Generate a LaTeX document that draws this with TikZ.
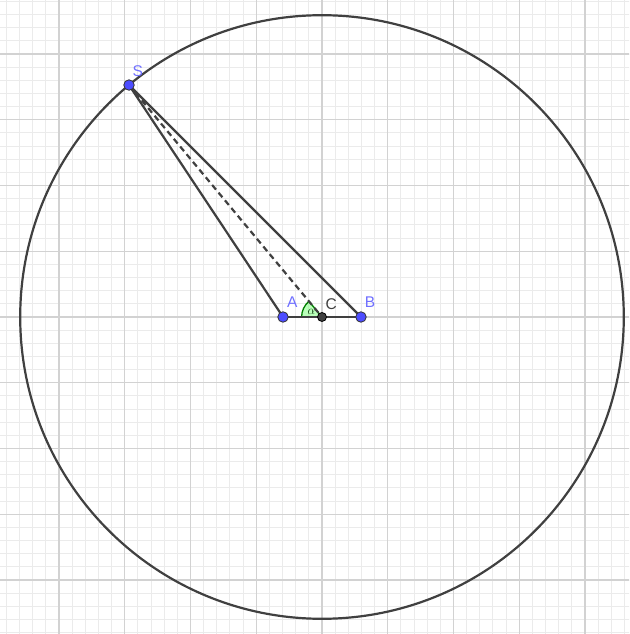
\documentclass[tikz,border=0pt]{standalone}
\usepackage{fontspec}
\setmainfont{Liberation Sans}
\definecolor{minorgrid}{HTML}{EBEBEB}
\definecolor{majorgrid}{HTML}{D2D2D2}
\definecolor{segcol}{HTML}{404040}
\definecolor{ptblue}{HTML}{4D4DFF}
\definecolor{lblblue}{HTML}{7070FF}
\definecolor{anggreen}{HTML}{007F00}
\tikzset{
  seg/.style={draw=segcol, line width=2.2pt},
  ptA/.style={circle, fill=ptblue, draw=black!80, line width=0.8pt, inner sep=0pt, minimum size=10.5pt},
  ptC/.style={circle, fill=segcol, draw=black, line width=0.8pt, inner sep=0pt, minimum size=9pt},
  lbl/.style={text=lblblue, font=\fontsize{15.5}{17}\selectfont, inner sep=0pt},
  lblk/.style={text=segcol, font=\fontsize{15.5}{17}\selectfont, inner sep=0pt}
}
\begin{document}
\begin{tikzpicture}[x=65.75pt, y=65.75pt]
\useasboundingbox (-4.8973,-4.8213) rectangle (4.6692,4.8213);
\fill[white] (-4.8973,-4.8213) rectangle (4.6692,4.8213);
\begin{scope}
\clip (-4.8973,-4.8213) rectangle (4.6692,4.8213);
\draw[minorgrid, line width=0.9pt] (-5,-5) grid[step=0.2] (5,5);
\draw[majorgrid, line width=1.4pt] (-5,-5) grid[step=1] (5,5);
\end{scope}
\coordinate (C0) at (0,0);
\coordinate (S0) at (-2.935,3.528);
\coordinate (A0) at (-0.593,0);
\coordinate (B0) at (0.593,0);
% circle
\draw[seg] (C0) circle[radius=4.59];
% angle
\filldraw[fill=green!60!white, fill opacity=0.45, draw=anggreen, line width=1.3pt] (C0) -- ++(129.76:0.31) arc[start angle=129.76, end angle=180, radius=0.31] -- cycle;
\node[text=black!80!green, font=\fontsize{13}{15}\selectfont, inner sep=0pt] (alpha) at (-0.16,0.07) {$\alpha$};
% segments
\draw[seg] (S0) -- (A0);
\draw[seg] (S0) -- (B0);
\draw[seg] (A0) -- (B0);
\draw[seg, dash pattern=on 6pt off 4pt] (S0) -- (C0);
% points
\node[ptA] (S) at (S0) {};
\node[ptA] (A) at (A0) {};
\node[ptA] (B) at (B0) {};
\node[ptC] (C) at (C0) {};
% labels
\node[lbl] (lS) at (-2.8,3.74) {S};
\node[lbl] (lA) at (-0.45,0.23) {A};
\node[lbl] (lB) at (0.73,0.22) {B};
\node[lblk] (lC) at (0.14,0.2) {C};
\end{tikzpicture}
\end{document}
